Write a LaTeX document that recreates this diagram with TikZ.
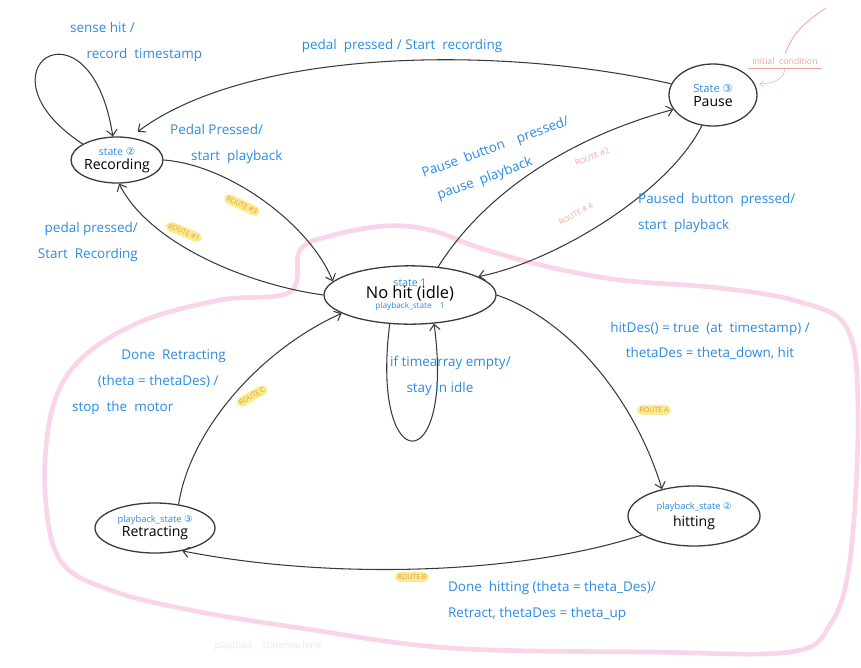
\documentclass[tikz,border=0pt]{standalone}
\usepackage{fontspec}
\setmainfont{Open Sans}
\newfontfamily\symfont{DejaVu Sans}
\usepackage{xcolor}
\definecolor{ink}{HTML}{3A3A3A}
\definecolor{noteblue}{HTML}{2B8AE2}
\definecolor{blobpink}{HTML}{F9D5E9}
\definecolor{hilite}{HTML}{FBEB8E}
\definecolor{routetxt}{HTML}{E39A4C}
\definecolor{salmon}{HTML}{EFA59C}
\usepackage{tikz}
\usetikzlibrary{arrows.meta, shapes.geometric, positioning}

\begin{document}
\begin{tikzpicture}[x=0.03cm, y=-0.03cm, >={Straight Barb[length=5pt, width=9pt]},
  font=\fontsize{11.5}{22}\selectfont,
  state/.style={ellipse, draw=ink, line width=1.1pt, inner sep=-2pt, align=center,
                font=\fontsize{12}{13}\selectfont},
  edge/.style={->, ink, line width=0.9pt},
  note/.style={text=noteblue, align=left},
  route/.style={fill=hilite, rounded corners=5pt, text=routetxt, inner sep=2pt,
                font=\fontsize{6}{7}\selectfont},
  faint/.style={text=salmon, font=\fontsize{6.5}{7}\selectfont}]

  \useasboundingbox (0,0) rectangle (861,668);

  % playback region
  \draw[blobpink, line width=4pt] plot[smooth cycle, tension=0.6] coordinates {
    (300,250) (330,236) (385,226) (430,230) (480,248) (545,266) (620,280)
    (720,288) (800,302) (848,330) (858,420) (850,560) (830,625) (790,652)
    (650,652) (450,648) (300,628) (190,610) (110,590) (60,560) (45,490)
    (52,410) (80,360) (140,322) (220,300) (290,292)};
  \node[text=blobpink!80, font=\fontsize{8}{9}\selectfont] (blobname) at (268,646) {playback\quad statemachine};

  % states
  \node[state, minimum width=2.76cm, minimum height=1.38cm] (rec) at (117,160)
    {{\color{noteblue}\fontsize{9}{10}\selectfont state {\symfont ②}}\\[-1pt] Recording};
  \node[state, minimum width=2.64cm, minimum height=1.86cm] (pause) at (713,95)
    {{\color{noteblue}\fontsize{9.5}{10}\selectfont State {\symfont ③}}\\[-1pt] Pause};
  \node[state, minimum width=5.16cm, minimum height=1.75cm] (idle) at (410,295)
    {{\color{noteblue}\fontsize{9}{10}\selectfont state 1}\\[-3pt]
     {\fontsize{14}{15}\selectfont No hit (idle)}\\[-4pt]
     {\color{noteblue}\fontsize{7}{8}\selectfont playback\_state\quad 1}};
  \node[state, minimum width=3.96cm, minimum height=1.8cm] (hit) at (694,516)
    {{\color{noteblue}\fontsize{8}{9}\selectfont playback\_state {\symfont ②}}\\[2pt] hitting};
  \node[state, minimum width=3.6cm, minimum height=1.5cm] (retr) at (155,528)
    {{\color{noteblue}\fontsize{8}{9}\selectfont playback\_state {\symfont ③}}\\[-1pt] Retracting};

  % transitions
  \draw[edge] (rec.155) .. controls (-30,70) and (90,-10) .. (rec.100);
  \draw[edge, shorten >=8pt] (pause.165) .. controls (500,45) and (250,48) .. (rec.60);
  \draw[edge] (rec.east) .. controls (230,165) and (310,225) .. (idle.170);
  \draw[edge] (idle.west) .. controls (250,285) and (150,245) .. (rec.-85);
  \draw[edge] (idle.45) .. controls (480,200) and (560,140) .. (pause.200);
  \draw[edge] (pause.250) .. controls (670,190) and (560,260) .. (idle.15);
  \draw[edge] (idle.-125) .. controls (370,480) and (455,480) .. (idle.-50);
  \draw[edge] (idle.east) .. controls (570,320) and (635,400) .. (hit.140);
  \draw[edge] (hit.200) .. controls (520,575) and (330,580) .. (retr.-40);
  \draw[edge] (retr.45) .. controls (190,430) and (260,350) .. (idle.195);

  % transition labels
  \node[note, anchor=west] (lblsense) at (66,42) {sense hit /\\\hspace{14pt}record\ \ timestamp};
  \node[note] (lblrec) at (402,46) {pedal\ \ pressed /\ Start\ \ recording};
  \node[note, anchor=west] (lblplay) at (166,144) {Pedal\ Pressed/\\\hspace{18pt}start\ \ playback};
  \node[note, anchor=east, align=right] (lblrec2) at (142,242) {pedal\ pressed/\\Start\ \ Recording};
  \node[note, rotate=20] (lblpause) at (500,160) {Pause\ \ button\quad pressed/\\\hspace{6pt}pause\ \ playback};
  \node[note, anchor=west] (lblresume) at (634,213) {Paused\ \ button\ \ pressed/\\start\ \ playback};
  \node[note, anchor=west] (lblempty) at (386,376) {if timearray\ empty/\\\hspace{14pt}stay in idle};
  \node[note, align=center] (lblhit) at (710,341) {hitDes() = true\ \ (at\ \ timestamp) /\\thetaDes = theta\_down,\ hit};
  \node[note, anchor=west] (lbldoneretr) at (68,382)
    {\hspace{42pt}Done\ \ Retracting\\\hspace{22pt}(theta = thetaDes)\ /\\stop\ \ the\ \ motor};
  \node[note, anchor=west] (lbldonehit) at (444,601) {Done\ \ hitting (theta\ =\ theta\_Des)/\\Retract,\ thetaDes = theta\_up};

  % route tags
  \node[route, rotate=-25] (route3) at (242,205) {ROUTE \#3};
  \node[route, rotate=-22] (route1) at (184,232) {ROUTE \#1};
  \node[faint, rotate=20] (route2) at (592,157) {ROUTE \#2};
  \node[faint, rotate=30] (route4) at (576,214) {ROUTE \# 4};
  \node[route] (routeA) at (654,410) {ROUTE A};
  \node[route] (routeB) at (412,577) {ROUTE B};
  \node[route, rotate=30] (routeC) at (252,396) {ROUTE C};

  % initial condition remark
  \node[faint, font=\fontsize{7.5}{8}\selectfont] (init) at (785,61) {initial\ \ condition};
  \draw[salmon] (init.south west) -- (init.south east);
  \coordinate (inittop) at (826,8);
  \draw[salmon, line width=0.7pt] (inittop) .. controls (800,25) and (793,35) .. (init.north);
  \draw[salmon, -{Straight Barb[length=3pt, width=5pt]}, shorten >=4pt]
    (init.south) to[out=-95, in=0] (pause.15);
\end{tikzpicture}
\end{document}
